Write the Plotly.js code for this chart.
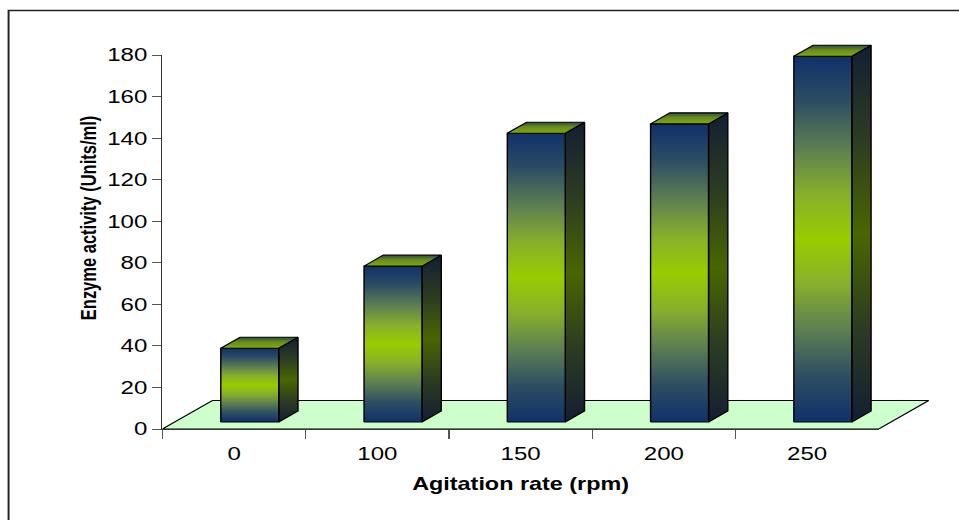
<!DOCTYPE html>
<html>
<head>
<meta charset="utf-8">
<script src="https://cdn.plot.ly/plotly-3.0.1.min.js"></script>
<style>
html,body{margin:0;padding:0;overflow:hidden;background:#fff;}
#chart{width:738px;height:520px;transform:scaleX(1.29946);transform-origin:0 0;}
</style>
</head>
<body>
<div id="chart"></div>
<script>
// ---- data ----
const categories = ['0', '100', '150', '200', '250'];
const enzymeActivity = [35.5, 75, 139, 143.5, 176];
const yTickVals = [0, 20, 40, 60, 80, 100, 120, 140, 160, 180];
const xTitle = 'Agitation rate (rpm)';
const yTitle = 'Enzyme activity (Units/ml)';

// ---- geometry / style (reference pixels) ----
const W0 = 738, H0 = 520, S = 959 / W0;
const PLOT = {left: 162, right: 945, top: 7, bottom: 429};
const AXIS_RIGHT = 879, AXIS_TOP = 55, Y_MAX = 180;
const catPx = (AXIS_RIGHT - PLOT.left) / categories.length;
const unitPx = (PLOT.bottom - AXIS_TOP) / Y_MAX;
const FLOOR_DX = 50, FLOOR_DY = 28.5;
const BAR_W = 58, BAR_DX = 19.3, BAR_DY = 11, FACE_DX = 15.7, FACE_DY = 7;
const tx = px => px / catPx, ty = px => px / unitPx;
const FONT = 'Liberation Sans, Arial, sans-serif';

const FRONT_GRAD = [[0, '#10316a'], [0.12, '#2c4c63'], [0.25, '#5c7e52'], [0.38, '#88b02a'], [0.5, '#99cc00'],
                    [0.62, '#88b02a'], [0.75, '#5c7e52'], [0.88, '#2c4c63'], [1, '#10316a']];
const SIDE_GRAD = [[0, '#131e33'], [0.25, '#2c3c22'], [0.5, '#4a6600'], [0.75, '#2c3c22'], [1, '#131e33']];
const TOP_GRAD = [[0, '#7fa817'], [0.55, '#6a9012'], [1, '#2d4850']];

function poly(xs, ys, grad, fill, lw) {
  const t = {
    type: 'scatter', mode: 'lines', xaxis: 'x2', yaxis: 'y2',
    x: xs.concat([xs[0]]), y: ys.concat([ys[0]]),
    fill: 'toself', fillcolor: fill,
    line: {color: '#000', width: lw || 1.1},
    hoverinfo: 'skip', showlegend: false
  };
  if (grad) t.fillgradient = {type: 'vertical', colorscale: grad};
  return t;
}

const traces = [];
// category-axis anchor trace (invisible) for the display axes
traces.push({type: 'scatter', x: categories, y: enzymeActivity, mode: 'markers',
  marker: {opacity: 0, size: 1}, hoverinfo: 'skip', showlegend: false});

// floor
const n = categories.length;
const fdx = tx(FLOOR_DX), fdy = ty(FLOOR_DY);
traces.push(poly([-0.5, n - 0.5, n - 0.5 + fdx, -0.5 + fdx], [0, 0, fdy, fdy], null, '#ccffcc', 1));

// bars
const bw = tx(BAR_W), bdx = tx(BAR_DX), bdy = ty(BAR_DY), fx = tx(FACE_DX), fy = ty(FACE_DY);
enzymeActivity.forEach((v, i) => {
  const L = i + fx - bw / 2, R = i + fx + bw / 2, B = fy, T = fy + v;
  traces.push(poly([R, R + bdx, R + bdx, R], [B, B + bdy, T + bdy, T], SIDE_GRAD, '#3a4f10'));
  traces.push(poly([L, R, R, L], [B, B, T, T], FRONT_GRAD, '#7aa020'));
  traces.push(poly([L, R, R + bdx, L + bdx], [T, T, T + bdy, T + bdy], TOP_GRAD, '#6a9012'));
});

const pw = PLOT.right - PLOT.left, ph = PLOT.bottom - PLOT.top;
const layout = {
  width: W0, height: H0,
  margin: {l: PLOT.left / S, r: (959 - PLOT.right) / S, t: PLOT.top, b: H0 - PLOT.bottom, pad: 0},
  paper_bgcolor: '#fff', plot_bgcolor: 'rgba(0,0,0,0)',
  showlegend: false,
  font: {family: FONT, color: '#000'},
  xaxis: {
    type: 'category', anchor: 'y', domain: [0, (AXIS_RIGHT - PLOT.left) / pw],
    range: [-0.5, n - 0.5], tickson: 'boundaries', ticks: 'outside', ticklen: 9, tickwidth: 1,
    tickcolor: '#555', showline: true, linecolor: '#333', linewidth: 1,
    showgrid: false, zeroline: false, fixedrange: true, ticklabelstandoff: 8,
    tickfont: {family: FONT, size: 18.5, color: '#000'},
    title: {text: xTitle, font: {family: FONT, size: 18, weight: 700, color: '#000'}, standoff: 14}
  },
  yaxis: {
    anchor: 'x', domain: [0, (PLOT.bottom - AXIS_TOP) / ph], range: [0, Y_MAX],
    tickmode: 'array', tickvals: yTickVals, ticks: 'outside', ticklen: 9 / S, tickwidth: 1,
    tickcolor: '#555', showline: true, linecolor: '#333', linewidth: 1,
    showgrid: false, zeroline: false, fixedrange: true,
    tickfont: {family: FONT, size: 18.5, color: '#000'}
  },
  xaxis2: {anchor: 'y2', domain: [0, 1], range: [-0.5, -0.5 + pw / catPx], visible: false, fixedrange: true},
  yaxis2: {
    anchor: 'x2', domain: [0, 1], range: [0, ph / unitPx], fixedrange: true,
    showticklabels: false, ticks: '', showline: false, showgrid: false, zeroline: false,
    title: {text: yTitle, font: {family: FONT, size: 16.5, weight: 700, color: '#000'}, standoff: 45}
  },
  shapes: [{
    type: 'rect', xref: 'paper', yref: 'paper', layer: 'below',
    x0: (8 - PLOT.left) / pw, x1: (970 - PLOT.left) / pw,
    y0: (PLOT.bottom - 530) / ph, y1: (PLOT.bottom - 10.5) / ph,
    line: {color: '#222', width: 1.5}, fillcolor: 'rgba(0,0,0,0)'
  }]
};

Plotly.newPlot('chart', traces, layout, {staticPlot: true, displayModeBar: false});
</script>
</body>
</html>
